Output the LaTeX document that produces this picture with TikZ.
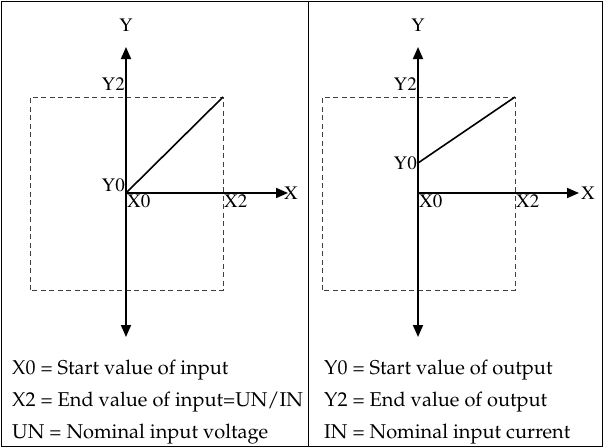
\documentclass[tikz,border=0pt]{standalone}
\usepackage[T1]{fontenc}
\usepackage{mathpazo}
\usetikzlibrary{arrows.meta}
\tikzset{
  tri/.tip={Triangle[length=12pt, width=10pt]},
  axis/.style={line width=1.8pt, -tri},
  dashbox/.style={line width=0.8pt, dash pattern=on 5pt off 3.5pt, black!75},
  ticklbl/.style={font=\fontfamily{ptm}\fontsize{19}{21}\selectfont, inner sep=1pt},
  legend/.style={font=\fontsize{20}{23}\selectfont, anchor=west, inner sep=0pt},
}

\begin{document}
\begin{tikzpicture}[x=1pt, y=-1pt]
    \useasboundingbox (0,0) rectangle (603,447);
    % frame
    \draw[line width=0.9pt] (1,1) rectangle (602,446);
    \draw[line width=0.9pt] (308,1) -- (308,446);
    % input
    \coordinate (l-o) at (126,193);
    \coordinate (l-c) at (223,97);
    \coordinate (l-bl) at (30,290);
    \coordinate (l-top) at (126,47);
    \coordinate (l-bot) at (126,337);
    \coordinate (l-xend) at (288,193);
    \draw[dashbox] (l-bl) rectangle (l-c);
    \draw[axis] (l-o) -- (l-xend);
    \draw[axis, tri-tri] (l-bot) -- (l-top);
    \draw[line width=1.6pt] (l-o) -- (l-c);
    \node[ticklbl] (l-Y) at (126,25) {Y};
    \node[ticklbl, anchor=west, inner sep=0pt] (l-X) at ([xshift=-4pt]l-xend) {X};
    \node[ticklbl, anchor=south east] (l-Y2) at (126,92) {Y2};
    \node[ticklbl, anchor=south east] (l-Y0) at (l-o) {Y0};
    \node[ticklbl, anchor=north west] (l-X0) at (l-o) {X0};
    \node[ticklbl, anchor=north west] (l-X2) at (l-c |- l-o) {X2};
    % output
    \coordinate (r-o) at (418,193);
    \coordinate (r-y0) at (418,163);
    \coordinate (r-c) at (515,97);
    \coordinate (r-bl) at (322,290);
    \coordinate (r-top) at (418,47);
    \coordinate (r-bot) at (418,337);
    \coordinate (r-xend) at (579,193);
    \draw[dashbox] (r-bl) rectangle (r-c);
    \draw[axis] (r-o) -- (r-xend);
    \draw[axis, tri-tri] (r-bot) -- (r-top);
    \draw[line width=1.6pt] (r-y0) -- (r-c);
    \node[ticklbl] (r-Y) at (418,25) {Y};
    \node[ticklbl, anchor=west, inner sep=0pt] (r-X) at ([xshift=2pt]r-xend) {X};
    \node[ticklbl, anchor=south east] (r-Y2) at (418,92) {Y2};
    \node[ticklbl, anchor=east] (r-Y0) at (r-y0) {Y0};
    \node[ticklbl, anchor=north west] (r-X0) at (r-o) {X0};
    \node[ticklbl, anchor=north west] (r-X2) at (r-c |- r-o) {X2};
    % legend
    \foreach \t [count=\i] in {X0 = Start value of input, X2 = End value of input=UN/IN, UN = Nominal input voltage} {
      \node[legend] (in-\i) at (12,338+32*\i) {\t};
    }
    \foreach \t [count=\i] in {Y0 = Start value of output, Y2 = End value of output, IN = Nominal input current} {
      \node[legend] (out-\i) at (324,338+32*\i) {\t};
    }
\end{tikzpicture}
\end{document}
